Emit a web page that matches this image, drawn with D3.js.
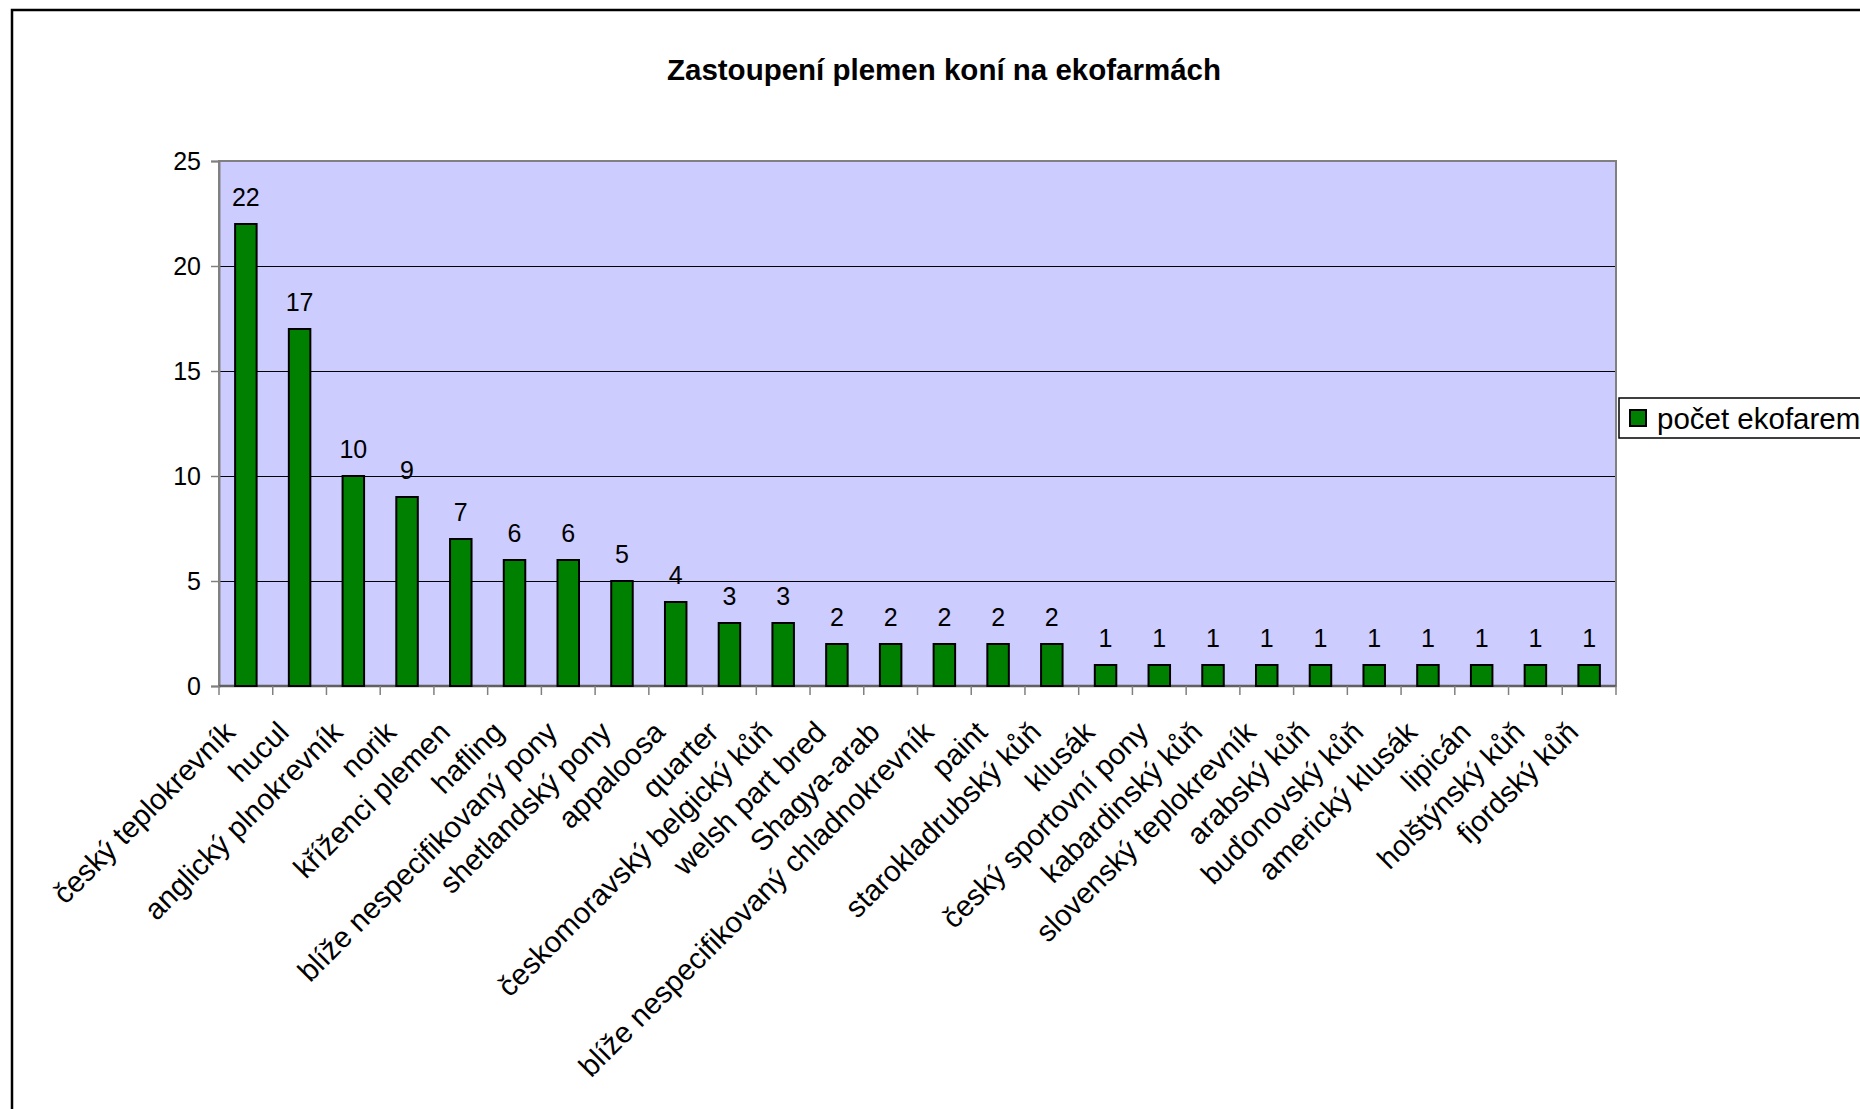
<!DOCTYPE html>
<html>
<head>
<meta charset="utf-8">
<script src="https://cdn.jsdelivr.net/npm/d3@7"></script>
<style>
  body { margin: 0; background: #fff; }
  svg { font-family: Arial, "Liberation Sans", sans-serif; }
</style>
</head>
<body>
<div id="chart"></div>
<script>
const title = "Zastoupení plemen koní na ekofarmách";
const seriesName = "počet ekofarem";
const categories = [
  "český teplokrevník", "hucul", "anglický plnokrevník", "norik", "kříženci plemen",
  "hafling", "blíže nespecifikovaný pony", "shetlandský pony", "appaloosa", "quarter",
  "českomoravský belgický kůň", "welsh part bred", "Shagya-arab",
  "blíže nespecifikovaný chladnokrevník", "paint", "starokladrubský kůň", "klusák",
  "český sportovní pony", "kabardinský kůň", "slovenský teplokrevník", "arabský kůň",
  "buďonovský kůň", "americký klusák", "lipicán", "holštýnský kůň", "fjordský kůň"
];
const values = [22, 17, 10, 9, 7, 6, 6, 5, 4, 3, 3, 2, 2, 2, 2, 2, 1, 1, 1, 1, 1, 1, 1, 1, 1, 1];
const yTicks = [0, 5, 10, 15, 20, 25];

let svgWidth = 1860, svgHeight = 1109;
let margin = {top: 161, right: 244, bottom: 423, left: 219},
    width = svgWidth - margin.left - margin.right,
    height = svgHeight - margin.top - margin.bottom;

let svg = d3.select("#chart").append("svg")
    .attr("width", svgWidth)
    .attr("height", svgHeight);

// outer chart frame (runs off the right and bottom edges)
svg.append("rect")
    .attr("x", 12).attr("y", 10)
    .attr("width", 1900).attr("height", 1200)
    .attr("fill", "#fff")
    .attr("stroke", "#000")
    .attr("stroke-width", 2.5);

svg.append("text")
    .attr("x", 944).attr("y", 80)
    .attr("text-anchor", "middle")
    .attr("font-weight", "bold")
    .attr("font-size", 29.5)
    .text(title);

let x = d3.scaleBand().domain(categories).range([0, width]).paddingInner(0).paddingOuter(0),
    y = d3.scaleLinear().domain([0, 25]).range([height, 0]);

let g = svg.append("g")
    .attr("transform", "translate(" + margin.left + "," + margin.top + ")");

g.append("rect")
    .attr("width", width).attr("height", height)
    .attr("fill", "#ccccff");

// gridlines
g.selectAll(".grid")
    .data(yTicks.filter(t => t > 0 && t < 25))
    .enter().append("line")
    .attr("class", "grid")
    .attr("x1", 0).attr("x2", width)
    .attr("y1", d => y(d) + 0.5).attr("y2", d => y(d) + 0.5)
    .attr("stroke", "#000").attr("stroke-width", 1);

g.append("rect")
    .attr("width", width).attr("height", height)
    .attr("fill", "none")
    .attr("stroke", "#808080").attr("stroke-width", 2);

// y axis
let yAxis = g.append("g")
    .attr("class", "axis axis--y")
    .call(d3.axisLeft(y).tickValues(yTicks).tickSize(8).tickPadding(10));
yAxis.select(".domain").attr("stroke", "#808080").attr("stroke-width", 2);
yAxis.selectAll(".tick line").attr("stroke", "#808080").attr("stroke-width", 1.5);
yAxis.selectAll(".tick text")
    .attr("font-size", 25).attr("font-family", "Arial, 'Liberation Sans', sans-serif")
    .attr("fill", "#000");

// x axis: ticks at band boundaries
let xAxis = g.append("g")
    .attr("class", "axis axis--x")
    .attr("transform", "translate(0," + height + ")");
xAxis.append("line")
    .attr("x1", 0).attr("x2", width)
    .attr("stroke", "#606060").attr("stroke-width", 2.5);
xAxis.selectAll(".xtick")
    .data(categories.map(c => x(c)).concat([width]))
    .enter().append("line")
    .attr("class", "xtick")
    .attr("x1", d => d).attr("x2", d => d)
    .attr("y1", 0).attr("y2", 9)
    .attr("stroke", "#808080").attr("stroke-width", 1.5);

// bars
let bw = x.bandwidth() * 0.4;
g.selectAll(".bar")
    .data(values)
    .enter().append("rect")
    .attr("class", "bar")
    .attr("fill", "#008000")
    .attr("stroke", "#000")
    .attr("stroke-width", 2)
    .attr("x", (d, i) => x(categories[i]) + (x.bandwidth() - bw) / 2)
    .attr("y", d => y(d))
    .attr("width", bw)
    .attr("height", d => height - y(d));

// value labels
g.selectAll(".val")
    .data(values)
    .enter().append("text")
    .attr("class", "val")
    .attr("x", (d, i) => x(categories[i]) + x.bandwidth() / 2)
    .attr("y", d => y(d) - 18)
    .attr("text-anchor", "middle")
    .attr("font-size", 25)
    .text(d => d);

// category labels rotated -45
g.selectAll(".cat")
    .data(categories)
    .enter().append("text")
    .attr("class", "cat")
    .attr("text-anchor", "end")
    .attr("font-size", 29.5)
    .attr("transform", d => "translate(" + (x(d) + x.bandwidth() / 2 - 9) + "," + (height + 48) + ") rotate(-45)")
    .text(d => d);

// legend
let lg = svg.append("g").attr("transform", "translate(1619,398)");
lg.append("rect")
    .attr("width", 300).attr("height", 40)
    .attr("fill", "#fff").attr("stroke", "#000").attr("stroke-width", 1.5);
lg.append("rect")
    .attr("x", 11).attr("y", 12).attr("width", 16).attr("height", 16)
    .attr("fill", "#008000").attr("stroke", "#000").attr("stroke-width", 2);
lg.append("text")
    .attr("x", 38).attr("y", 31)
    .attr("font-size", 29.5)
    .text(seriesName);
</script>
</body>
</html>
